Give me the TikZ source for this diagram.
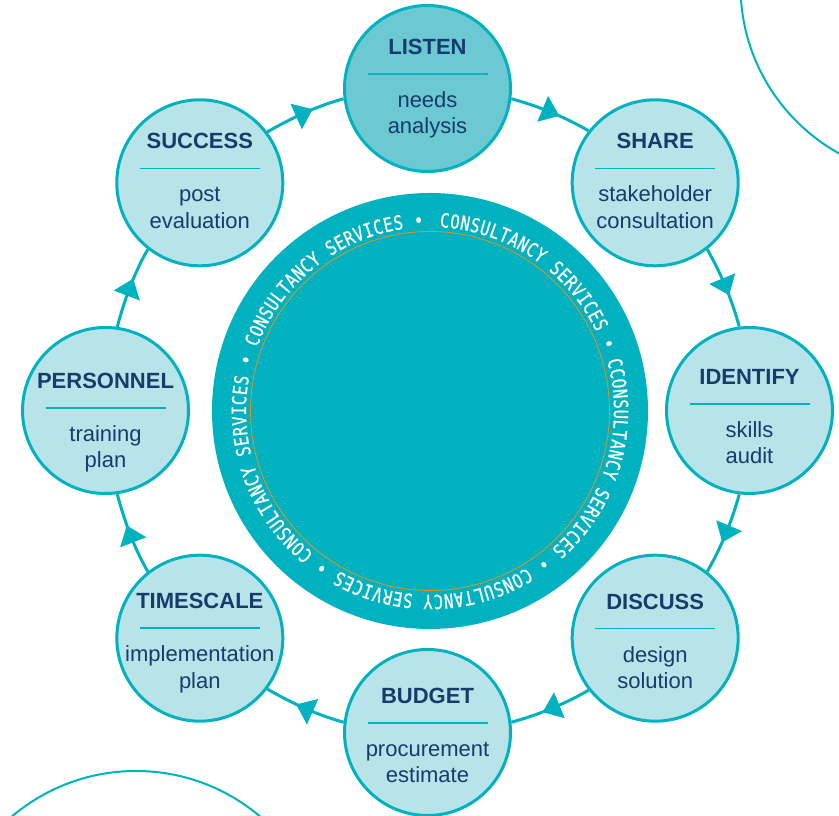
\documentclass[tikz,border=0pt]{standalone}
\usepackage{fontspec}
\setmainfont{Liberation Sans}
\newfontfamily\ringfont[FakeStretch=0.8,FakeBold=0.8]{DejaVu Sans Mono}
\usetikzlibrary{calc,decorations.text,decorations.markings}
\definecolor{teal1}{HTML}{00B2C0}
\definecolor{lightfill}{HTML}{B8E3E8}
\definecolor{listenfill}{HTML}{6CC9D3}
\definecolor{navy}{HTML}{143D6C}
\definecolor{orangeline}{HTML}{E8921E}
\tikzset{
  stepcirc/.style={circle, draw=teal1, line width=3pt, minimum size=166pt, inner sep=0pt},
  steptitle/.style={anchor=base, inner sep=0pt, text=navy, font=\fontsize{22}{26}\selectfont\bfseries},
  stepsub/.style={anchor=base, inner sep=0pt, text=navy, font=\fontsize{22}{26}\selectfont},
  divider/.style={draw=teal1, line width=1.5pt},
  ringline/.style={draw=teal1, line width=3pt, postaction={decorate},
    decoration={markings, mark=at position 0.5 with {\fill[teal1] (9pt,0pt) -- (-9pt,14pt) -- (-9pt,-14pt) -- cycle;}}},
  deco/.style={draw=teal1, line width=2pt},
}
\newcommand\cyclestep[7]{%
  \node[stepcirc, fill=#3] (#1) at ($(ring)+(#2:322)$) {};
  \node[steptitle] (#1-t) at ($(#1)+(0,{34-#7})$) {#4};
  \draw[divider] ($(#1)+(-60,{14.5-#7})$) -- ($(#1)+(60,{14.5-#7})$);
  \node[stepsub] (#1-a) at ($(#1)+(0,{-19-#7})$) {#5};
  \node[stepsub] (#1-b) at ($(#1)+(0,{-45.5-#7})$) {#6};
}
\begin{document}
\begin{tikzpicture}[x=1pt,y=1pt]
\clip (0,0) rectangle (839,816);
\draw[deco] (932,830) circle[radius=191.5];
\draw[deco] (136,-147) circle[radius=192];
\coordinate (ring) at (427.5,405.5);
\node[circle, fill=teal1, minimum size=436pt, inner sep=0pt] (big) at (430,405) {};
\node[circle, draw=orangeline, line width=0.8pt, minimum size=359pt, inner sep=0pt] (inner) at (big) {};
\path[decorate, decoration={text along path, text align=fit to path,
  text={|\ringfont\fontsize{19.5}{19.5}\selectfont\color{white}|CONSULTANCY SERVICES • CCONSULTANCY SERVICES • CONSULTANCY SERVICES • CONSULTANCY SERVICES • CONSULTANCY SERVICES •}}]
  ($(big)+(87:184)$) arc[start angle=87, end angle=-268, radius=184];
\cyclestep{listen}{90}{listenfill}{LISTEN}{needs}{analysis}{0}
\cyclestep{share}{45}{lightfill}{SHARE}{stakeholder}{consultation}{0}
\cyclestep{identify}{0}{lightfill}{IDENTIFY}{skills}{audit}{8}
\cyclestep{discuss}{-45}{lightfill}{DISCUSS}{design}{solution}{5}
\cyclestep{budget}{-90}{lightfill}{BUDGET}{procurement}{estimate}{5}
\cyclestep{timescale}{-135}{lightfill}{TIMESCALE}{implementation}{plan}{4.5}
\cyclestep{personnel}{180}{lightfill}{PERSONNEL}{training}{plan}{12}
\cyclestep{success}{135}{lightfill}{SUCCESS}{post}{evaluation}{0}
\foreach \a/\b/\ang in {listen/share/90, share/identify/45, identify/discuss/0, discuss/budget/-45, budget/timescale/-90, timescale/personnel/-135, personnel/success/180, success/listen/135}{
  \pgfmathsetmacro\sa{\ang-97.54}
  \pgfmathsetmacro\so{\ang-105.08}
  \pgfmathsetmacro\ea{\ang+52.54}
  \pgfmathsetmacro\ei{\ang+60.08}
  \draw[ringline] (\a.\sa) to[out=\so, in=\ei, distance=28pt] (\b.\ea);
}
\end{tikzpicture}
\end{document}
